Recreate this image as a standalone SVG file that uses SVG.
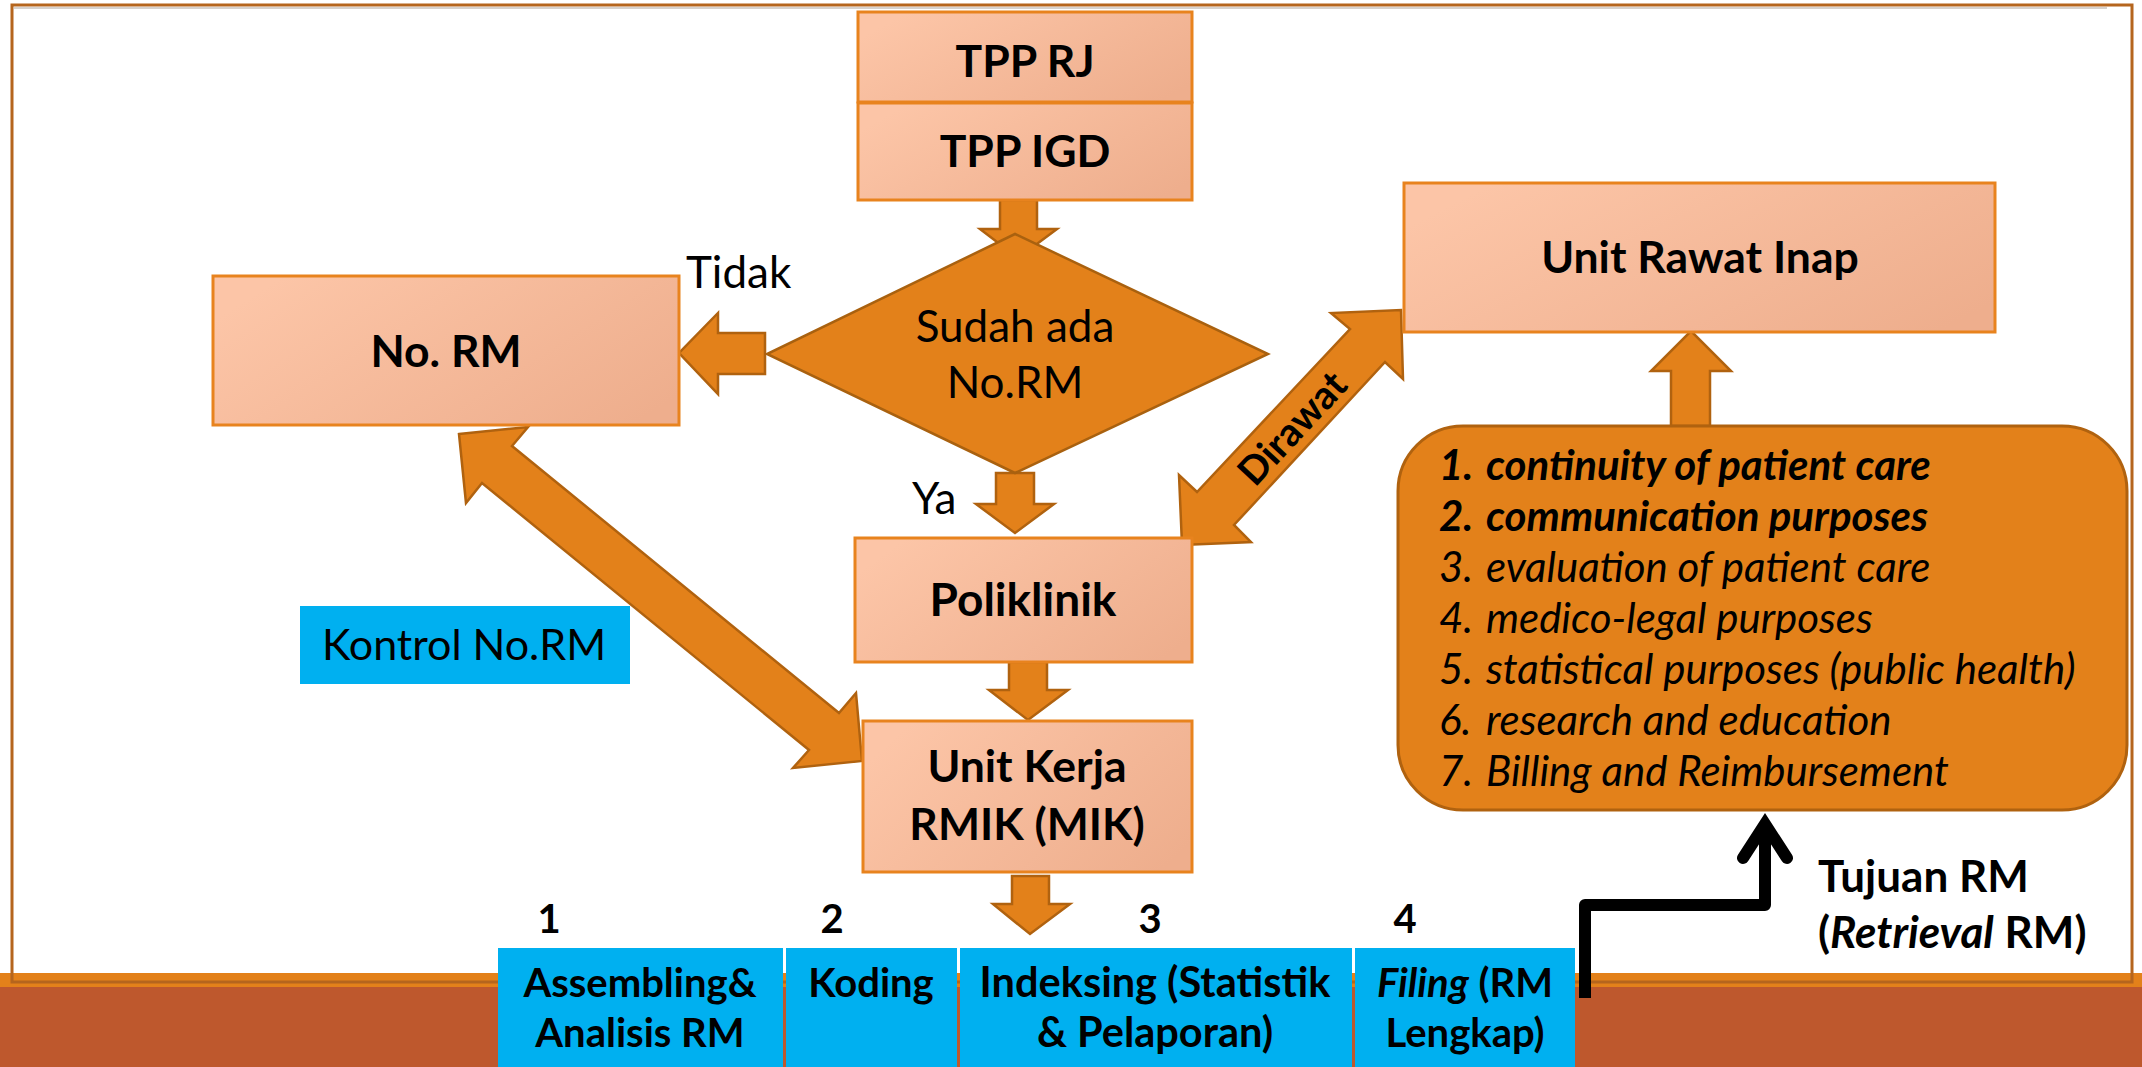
<svg xmlns="http://www.w3.org/2000/svg" width="2142" height="1067" viewBox="0 0 2142 1067">
<style>
.box{fill:url(#boxg);stroke:#E8831E;stroke-width:3}
.arr{fill:#E3811A;stroke:#B0620F;stroke-width:2.5}
.t{font-family:Lato,'Liberation Sans',sans-serif;fill:#000}
.b{font-weight:bold}
.i{font-style:italic}
.m{text-anchor:middle}
.s44{font-size:44.5px}
.r44{font-size:44px}
.s42{font-size:42px}
.s40{font-size:40px}
.blue{fill:#00B0F0}
</style>
<defs>
<linearGradient id="boxg" x1="0" y1="0.3" x2="1" y2="0.8">
<stop offset="0" stop-color="#FCC5A7"/>
<stop offset="1" stop-color="#EEAE8D"/>
</linearGradient>
</defs>
<rect x="0" y="0" width="2142" height="1067" fill="#fff"/>
<rect x="0" y="973" width="2142" height="14" fill="#E3811A"/>
<rect x="0" y="987" width="2142" height="80" fill="#BE582D"/>
<rect x="12" y="5" width="2120" height="977" fill="none" stroke="#B5651D" stroke-width="3"/>
<line x1="14" y1="8" x2="2107" y2="8" stroke="#C9C2BC" stroke-width="1.5"/>

<g id="connectors">
<polygon class="arr" points="1000,200 1037,200 1037,229 1057,229 1018,258 980,229 1000,229"/>
<polygon class="arr" points="765,333 765,374 718,374 718,394 679,353 718,313 718,333"/>
<polygon class="arr" points="996,473 1034,473 1034,504 1054,504 1015,533 976,504 996,504"/>
<polygon class="arr" points="1009,662 1047,662 1047,690 1068,690 1028,720 989,690 1009,690"/>
<polygon class="arr" points="1012,876 1049,876 1049,904 1070,904 1030,934 993,904 1012,904"/>
<polygon class="arr" points="1671,426 1710,426 1710,371 1731,371 1691,331 1651,371 1671,371"/>
<polygon class="arr" points="459,434 528,427 512,446 839,713 856,693 862,761 793,768 809,750 482,483 466,503"/>
<polygon class="arr" points="1401,310 1403,379 1385,362 1234,525 1251,542 1182,545 1179,475 1197,492 1350,329 1331,313"/>
<text class="t b" font-size="39" text-anchor="middle" transform="translate(1292,428) rotate(-47)" x="0" y="14">Dirawat</text>
<path d="M1585,998 L1585,905 L1765,905 L1765,826" fill="none" stroke="#000" stroke-width="12" stroke-linejoin="round"/>
<path d="M1743,858 L1765,824 L1787,858" fill="none" stroke="#000" stroke-width="12" stroke-linecap="round" stroke-linejoin="miter"/>
</g>

<g id="tpp-rj">
<rect class="box" x="858" y="12" width="334" height="90"/>
<text class="t b m s44" x="1025" y="77">TPP RJ</text>
</g>
<g id="tpp-igd">
<rect class="box" x="858" y="103" width="334" height="97"/>
<text class="t b m s44" x="1025" y="167">TPP IGD</text>
</g>
<g id="decision">
<polygon points="1015,234 1268,354 1015,473 767,354" fill="#E3811A" stroke="#A9610F" stroke-width="2.5"/>
<text class="t m r44" x="1015" y="342">Sudah ada</text>
<text class="t m r44" x="1015" y="398">No.RM</text>
</g>
<g id="label-tidak"><text class="t r44" x="686" y="288">Tidak</text></g>
<g id="label-ya"><text class="t r44" x="912" y="514">Ya</text></g>
<g id="no-rm">
<rect class="box" x="213" y="276" width="466" height="149"/>
<text class="t b m s44" x="446" y="367">No. RM</text>
</g>
<g id="unit-rawat-inap">
<rect class="box" x="1404" y="183" width="591" height="149"/>
<text class="t b m s44" x="1700" y="273">Unit Rawat Inap</text>
</g>
<g id="poliklinik">
<rect class="box" x="855" y="538" width="337" height="124"/>
<text class="t b m" font-size="46" x="1023" y="616">Poliklinik</text>
</g>
<g id="unit-kerja">
<rect class="box" x="863" y="721" width="329" height="151"/>
<text class="t b m s44" x="1027" y="782">Unit Kerja</text>
<text class="t b m s44" x="1027" y="840">RMIK (MIK)</text>
</g>
<g id="kontrol">
<rect class="blue" x="300" y="606" width="330" height="78"/>
<text class="t m" font-size="43" x="464" y="660">Kontrol No.RM</text>
</g>
<g id="tujuan">
<rect x="1398" y="426" width="729" height="384" rx="65" ry="65" fill="#E3811A" stroke="#B0620F" stroke-width="3"/>
<g class="t i s42">
<text class="b" x="1439" y="480">1.</text><text class="b" x="1486" y="480">continuity of patient care</text>
<text class="b" x="1439" y="531">2.</text><text class="b" x="1486" y="531">communication purposes</text>
<text x="1439" y="582">3.</text><text x="1486" y="582">evaluation of patient care</text>
<text x="1439" y="633">4.</text><text x="1486" y="633">medico-legal purposes</text>
<text x="1439" y="684">5.</text><text x="1486" y="684">statistical purposes (public health)</text>
<text x="1439" y="735">6.</text><text x="1486" y="735">research and education</text>
<text x="1439" y="786">7.</text><text x="1486" y="786">Billing and Reimbursement</text>
</g>
</g>
<g id="label-tujuan">
<text class="t b" font-size="44" x="1818" y="892">Tujuan RM</text>
<text class="t b" font-size="44" x="1818" y="948">(<tspan class="i">Retrieval</tspan> RM)</text>
</g>
<g id="step-1">
<text class="t b m" font-size="40" x="549" y="933">1</text>
<rect class="blue" x="498" y="948" width="285" height="119"/>
<text class="t b m s40" x="640" y="997">Assembling&amp;</text>
<text class="t b m s40" x="640" y="1047">Analisis RM</text>
</g>
<g id="step-2">
<text class="t b m" font-size="40" x="832" y="933">2</text>
<rect class="blue" x="786" y="948" width="171" height="119"/>
<text class="t b m s40" x="871" y="997">Koding</text>
</g>
<g id="step-3">
<text class="t b m" font-size="40" x="1150" y="933">3</text>
<rect class="blue" x="960" y="948" width="392" height="119"/>
<text class="t b m" font-size="41.5" x="1155" y="997">Indeksing (Statistik</text>
<text class="t b m" font-size="41.5" x="1155" y="1047">&amp; Pelaporan)</text>
</g>
<g id="step-4">
<text class="t b m" font-size="40" x="1405" y="933">4</text>
<rect class="blue" x="1355" y="948" width="220" height="119"/>
<text class="t b m s40" x="1465" y="997"><tspan class="i">Filing</tspan> (RM</text>
<text class="t b m s40" x="1465" y="1047">Lengkap)</text>
</g>
</svg>
